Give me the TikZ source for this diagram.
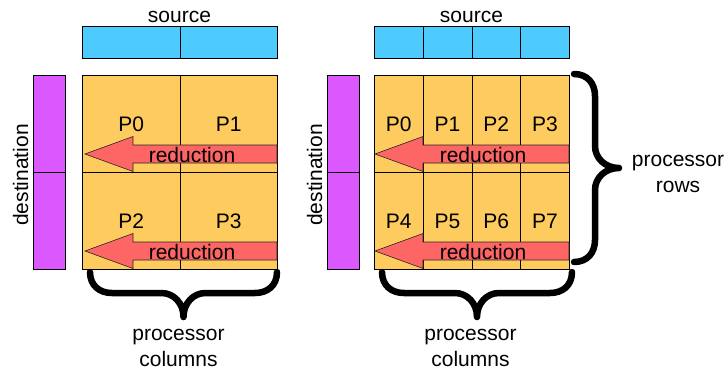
\documentclass[tikz,border=0pt]{standalone}
\usepackage{fontspec}
\setmainfont{Liberation Sans}
\usetikzlibrary{positioning}
\definecolor{naranjaP}{HTML}{FECB5F}
\definecolor{azulP}{HTML}{4DCBFE}
\definecolor{moradoP}{HTML}{DA58FE}
\definecolor{rojoP}{HTML}{FE6565}

\begin{document}
\begin{tikzpicture}[
    x=1bp, y=-1bp,
    celda/.style={rectangle, draw=black, line width=0.9bp, fill=naranjaP, anchor=north west,
                  inner sep=0pt, minimum height=97bp, font=\fontsize{21bp}{26bp}\selectfont},
    fuente/.style={rectangle, draw=black, line width=0.9bp, fill=azulP, anchor=north west,
                   inner sep=0pt, minimum height=32bp},
    destino/.style={rectangle, draw=black, line width=0.9bp, fill=moradoP, anchor=north west,
                    inner sep=0pt, minimum width=32bp, minimum height=97bp},
    flecha/.style={draw=black!85, line width=0.6bp, fill=rojoP},
    llave/.style={draw=black, line width=6.5bp, line cap=round, line join=round},
    texto/.style={font=\fontsize{21bp}{26bp}\selectfont, inner sep=0pt, anchor=base}
  ]
  \useasboundingbox (0,0) rectangle (727,371);

  % Panel izquierdo: 2 x 2 procesadores
  \foreach \c in {0,1} {
    \node[fuente, minimum width=97.5bp] (srcI\c) at (82+97.5*\c,26) {};
  }
  \foreach \f in {0,1} {
    \node[destino] (dstI\f) at (33,75+97*\f) {};
    \foreach \c in {0,1} {
      \pgfmathtruncatemacro{\n}{2*\f+\c}
      \node[celda, minimum width=97.5bp] (pI\n) at (82+97.5*\c,75+97*\f) {P\n};
    }
  }

  % Panel derecho: 2 x 4 procesadores
  \foreach \c in {0,...,3} {
    \node[fuente, minimum width=48.75bp] (srcD\c) at (374+48.75*\c,26) {};
  }
  \foreach \f in {0,1} {
    \node[destino] (dstD\f) at (327,75+97*\f) {};
    \foreach \c in {0,...,3} {
      \pgfmathtruncatemacro{\n}{4*\f+\c}
      \node[celda, minimum width=48.75bp] (pD\n) at (374+48.75*\c,75+97*\f) {P\n};
    }
  }

  % Flechas de reduccion
  \foreach \xt/\xh/\xr/\xl in {85/133/277/192, 375/423/569/483} {
    \foreach \f in {0,1} {
      \pgfmathsetmacro{\y}{154+97*\f}
      \draw[flecha] (\xr,\y-9) -- (\xh,\y-9) -- (\xh,\y-17.5) -- (\xt,\y)
        -- (\xh,\y+17.5) -- (\xh,\y+9) -- (\xr,\y+9) -- cycle;
      \node[texto] (red\xt\f) at (\xl,\y+8) {reduction};
    }
  }

  % Etiquetas
  \node[texto] (srcIlab) at (179.5,22) {source};
  \node[texto] (srcDlab) at (471.5,22) {source};
  \node[texto, rotate=90] (dstIlab) at (28,175) {destination};
  \node[texto, rotate=90] (dstDlab) at (322,175) {destination};
  \node[texto, align=center] (colI) at (178.5,366) {processor\\columns};
  \node[texto, align=center] (colD) at (470.5,366) {processor\\columns};
  \node[texto, align=center] (filD) at (678,192) {processor\\rows};

  % Llaves
  \coordinate (llI) at (277,272);
  \coordinate (llD) at (572,272);
  \coordinate (llF) at (574,74);
  \draw[llave] (llI) .. controls +(0,14) and +(12,0) .. ++(-22,21) -- ++(-49.5,0)
    .. controls +(-12,0) and +(0,-14) .. ++(-22,24)
    .. controls +(0,-14) and +(12,0) .. ++(-22,-24) -- ++(-49.5,0)
    .. controls +(-12,0) and +(0,14) .. ++(-22,-21);
  \draw[llave] (llD) .. controls +(0,14) and +(12,0) .. ++(-22,21) -- ++(-51,0)
    .. controls +(-12,0) and +(0,-14) .. ++(-22,24)
    .. controls +(0,-14) and +(12,0) .. ++(-22,-24) -- ++(-51,0)
    .. controls +(-12,0) and +(0,14) .. ++(-22,-21);
  \draw[llave] (llF) .. controls +(14,0) and +(0,-12) .. ++(21,22) -- ++(0,50)
    .. controls +(0,12) and +(-14,0) .. ++(24,22)
    .. controls +(-14,0) and +(0,-12) .. ++(-24,22) -- ++(0,50)
    .. controls +(0,12) and +(14,0) .. ++(-21,22);
\end{tikzpicture}
\end{document}
